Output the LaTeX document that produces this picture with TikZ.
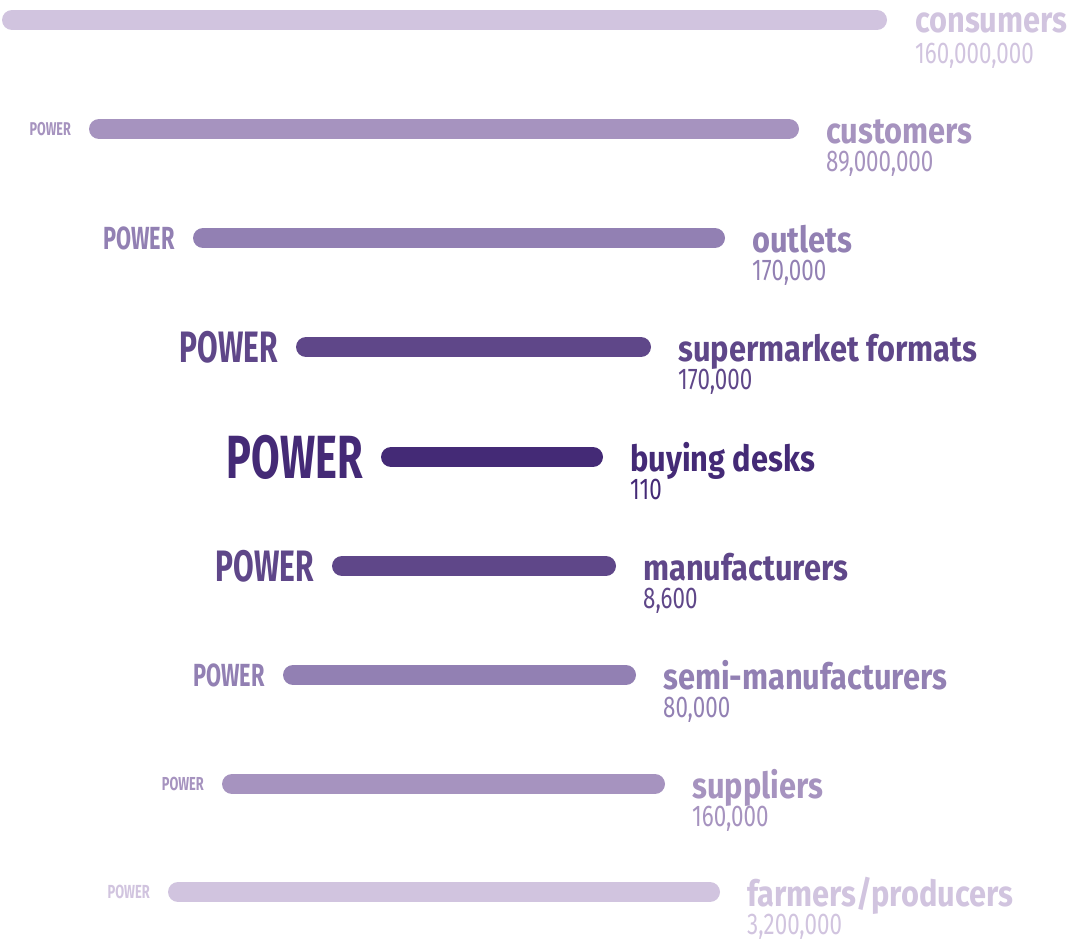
\documentclass[tikz,border=0pt]{standalone}
\usepackage{fontspec}
\newfontfamily\powf{Fira Sans}[FakeStretch=0.68]
\newfontfamily\namef{Fira Sans}[FakeStretch=0.855]
\newfontfamily\numf{Fira Sans}[FakeStretch=0.745]
\definecolor{ca}{HTML}{D1C4DF}
\definecolor{cb}{HTML}{A693BF}
\definecolor{cc}{HTML}{9280B3}
\definecolor{cd}{HTML}{5F4789}
\definecolor{ce}{HTML}{442A76}
\tikzset{
  bar/.style={line width=20pt, line cap=round},
  lbl/.style={inner sep=0pt, anchor=base west, font=\namef\bfseries\fontsize{36}{36}\selectfont},
  cnt/.style={inner sep=0pt, anchor=base west, font=\numf\fontsize{30}{30}\selectfont},
  pow/.style={inner sep=0pt, anchor=base east, font=\powf\bfseries\fontsize{#1}{#1}\selectfont}
}
\begin{document}
\begin{tikzpicture}[x=1pt,y=-1pt]
\useasboundingbox (0,0) rectangle (1072,942);
% consumers (no POWER label)
\coordinate (s1) at (12,20);
\coordinate (e1) at (877,20);
\draw[bar, draw=ca] (s1) -- (e1);
\node[lbl, text=ca] (n1) at ([xshift=38pt, yshift=-13pt]e1) {consumers};
\node[cnt, text=ca] (c1) at ([xshift=38pt, yshift=-44pt]e1) {160,000,000};
\foreach \i/\y/\a/\b/\col/\ps/\nm/\nu in {
  2/129/99/789/cb/18.5/customers/{89,000,000},
  3/238/203/715/cc/32/outlets/{170,000},
  4/347/306/641/cd/44/supermarket formats/{170,000},
  5/457/391/593/ce/61/buying desks/{110},
  6/566/342/606/cd/44/manufacturers/{8,600},
  7/675/293/626/cc/32/semi-manufacturers/{80,000},
  8/784/232/655/cb/18.8/suppliers/{160,000},
  9/892/178/710/ca/18.9/{farmers/producers}/{3,200,000}}
{
  \coordinate (s\i) at (\a,\y);
  \coordinate (e\i) at (\b,\y);
  \draw[bar, draw=\col] (s\i) -- (e\i);
  \node[pow=\ps, text=\col] (p\i) at ([xshift=-28pt, yshift=-0.345*\ps*1pt]s\i) {POWER};
  \node[lbl, text=\col] (n\i) at ([xshift=37pt, yshift=-14pt]e\i) {\nm};
  \node[cnt, text=\col] (c\i) at ([xshift=37pt, yshift=-42.5pt]e\i) {\nu};
}
\end{tikzpicture}
\end{document}
